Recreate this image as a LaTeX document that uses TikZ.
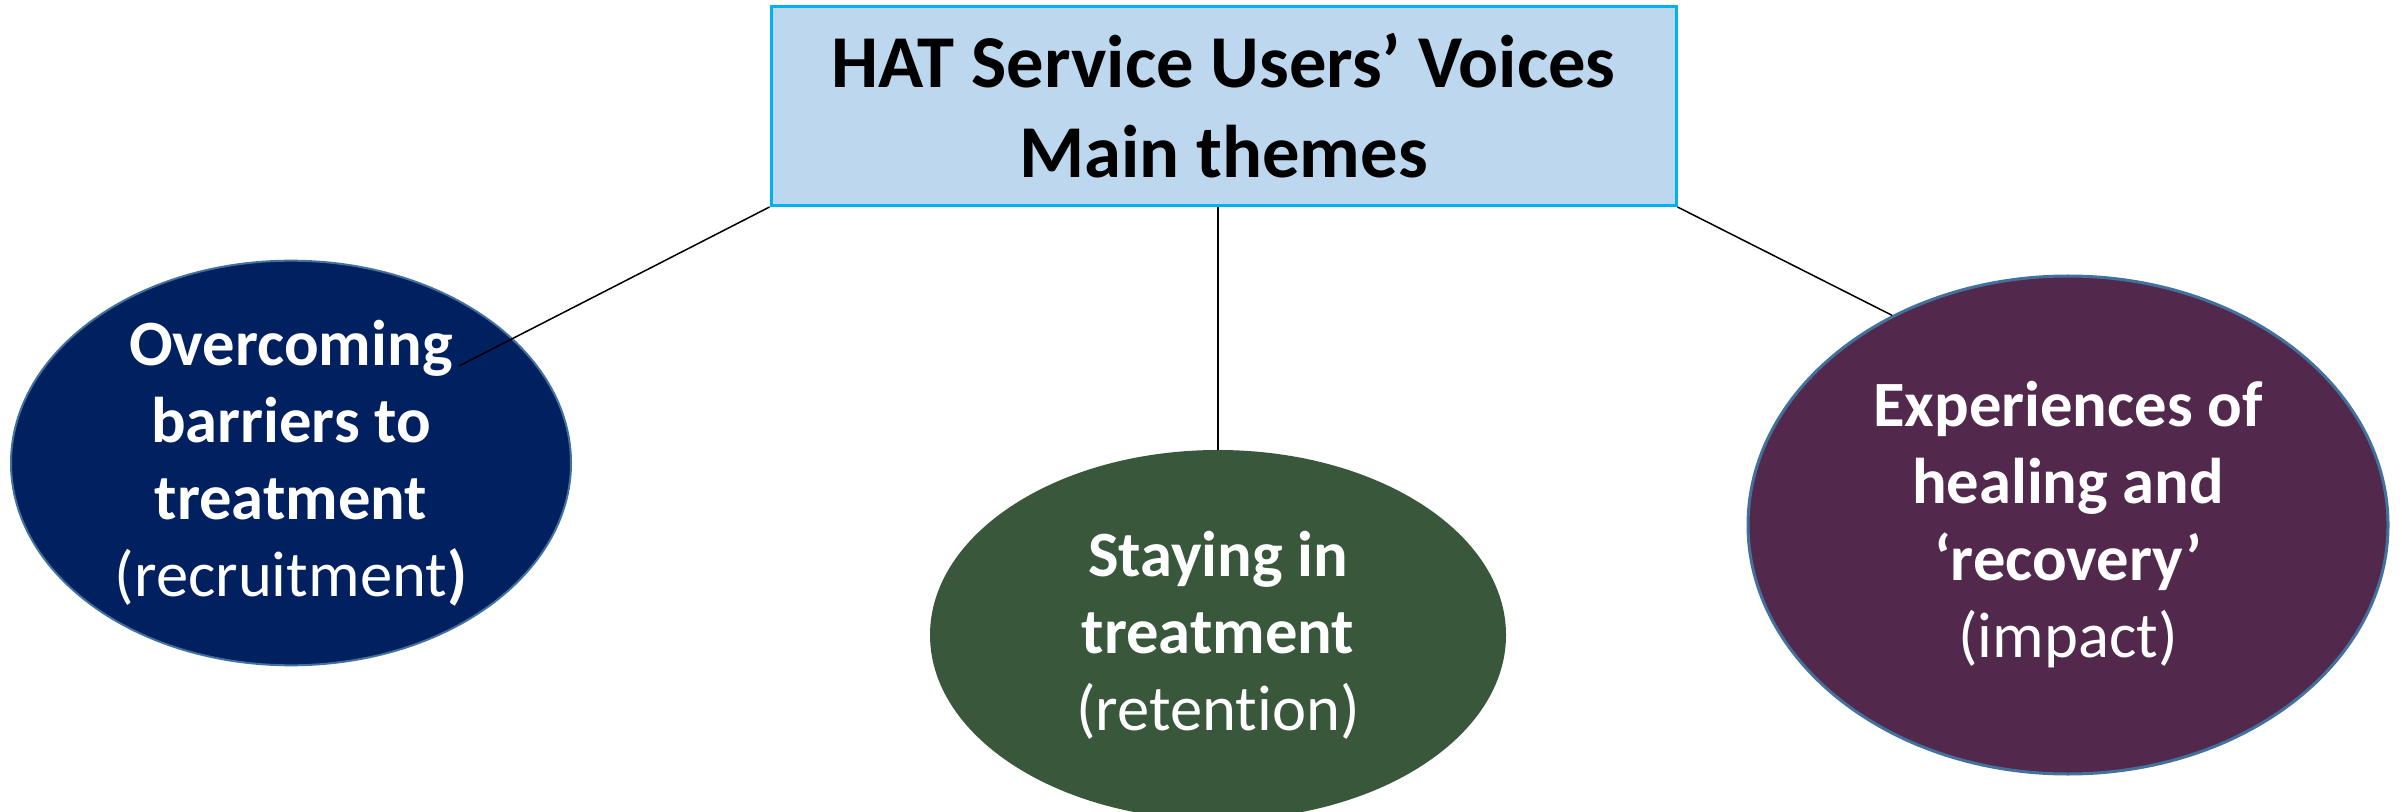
\documentclass[tikz,border=0pt]{standalone}
\usepackage{fontspec}
\setmainfont{Carlito}[Ligatures=NoCommon]
\usetikzlibrary{shapes.geometric}
\definecolor{boxfill}{RGB}{189,215,238}
\definecolor{boxline}{RGB}{0,176,240}
\definecolor{navyfill}{RGB}{0,32,96}
\definecolor{greenfill}{RGB}{57,87,59}
\definecolor{purplefill}{RGB}{83,40,77}
\definecolor{ellline}{RGB}{65,113,156}
\tikzset{
  titlebox/.style={rectangle, draw=boxline, line width=1.5pt, fill=boxfill,
    inner sep=0pt, minimum width=452.5pt, minimum height=99.5pt,
    align=center, font=\fontsize{37.3}{45}\selectfont\bfseries, text=black},
  themeell/.style={ellipse, inner sep=0pt, align=center, text=white,
    font=\fontsize{32.3}{38.5}\selectfont},
  link/.style={draw=black, line width=0.75pt}
}
\begin{document}
\begin{tikzpicture}[x=0.5pt,y=-0.5pt]
\useasboundingbox (0,0) rectangle (2402,812);
\node[titlebox] (title) at (1223.5,106) {HAT Service Users’ Voices\\Main themes};
\node[themeell, fill=navyfill, draw=ellline, line width=1pt,
  minimum width=280pt, minimum height=183pt] (left) at (291,463)
  {\textbf{Overcoming}\\\textbf{barriers to}\\\textbf{treatment}\\(recruitment\textbf{)}};
\node[themeell, fill=greenfill,
  minimum width=288pt, minimum height=185pt] (mid) at (1218,635)
  {\textbf{Staying in}\\\textbf{treatment}\\(retention)};
\node[themeell, fill=purplefill, draw=ellline, line width=1.5pt,
  minimum width=320pt, minimum height=249pt] (right) at (2068,525)
  {\textbf{Experiences of}\\\textbf{healing and}\\\textbf{‘recovery’}\\(impact)};
\coordinate (leftend) at (459,366);
\draw[link] (title.south west) -- (leftend);
\draw[link] (mid.north |- title.south) -- (mid.north);
\draw[link] (title.south east) -- (right.130);
\end{tikzpicture}
\end{document}
